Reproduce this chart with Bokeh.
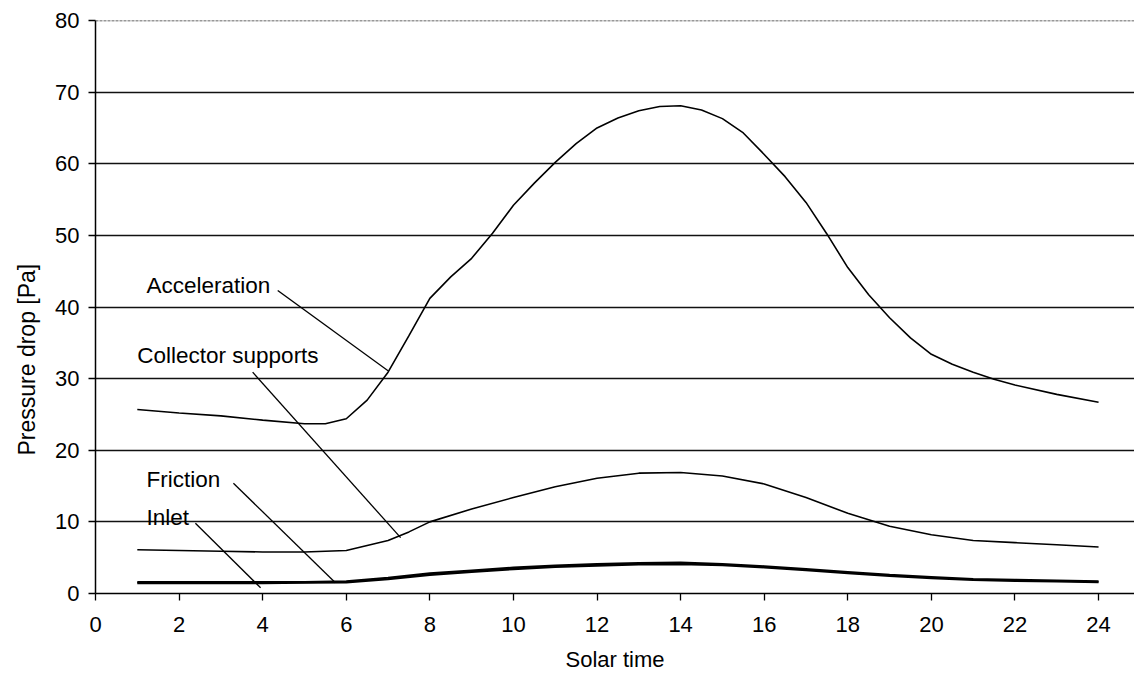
from bokeh.plotting import figure
from bokeh.models import Range1d, FixedTicker, ColumnDataSource, Span, Title
from bokeh.core.properties import value
from bokeh.embed import file_html
from bokeh.resources import INLINE

# ---- data ----
acc_x = [1, 2, 3, 4, 5, 5.5, 6, 6.5, 7, 7.5, 8, 8.5, 9, 9.5, 10, 10.5, 11, 11.5, 12, 12.5,
         13, 13.5, 14, 14.5, 15, 15.5, 16, 16.5, 17, 17.5, 18, 18.5, 19, 19.5, 20, 20.5,
         21, 21.5, 22, 23, 24]
acc_y = [25.7, 25.2, 24.8, 24.2, 23.7, 23.7, 24.4, 27.0, 30.9, 36.0, 41.2, 44.2, 46.8, 50.3,
         54.2, 57.3, 60.2, 62.8, 65.0, 66.4, 67.4, 68.0, 68.1, 67.5, 66.3, 64.3, 61.3, 58.2,
         54.6, 50.2, 45.5, 41.7, 38.5, 35.7, 33.4, 32.0, 30.9, 29.9, 29.1, 27.8, 26.7]

col_x = [1, 2, 3, 4, 5, 6, 6.5, 7, 7.5, 8, 9, 10, 11, 12, 13, 14, 15, 16, 17, 18, 19, 20,
         21, 22, 23, 24]
col_y = [6.1, 6.0, 5.9, 5.8, 5.8, 6.0, 6.7, 7.4, 8.6, 10.0, 11.8, 13.4, 14.9, 16.1, 16.8,
         16.9, 16.4, 15.3, 13.4, 11.2, 9.4, 8.2, 7.4, 7.1, 6.8, 6.5]

hours = list(range(1, 25))
friction = [1.6, 1.6, 1.6, 1.6, 1.6, 1.7, 2.2, 2.8, 3.2, 3.6, 3.9, 4.1, 4.25, 4.3, 4.1, 3.8,
            3.4, 3.0, 2.6, 2.3, 2.0, 1.9, 1.8, 1.7]
inlet = [1.45, 1.45, 1.45, 1.45, 1.5, 1.55, 2.0, 2.6, 3.0, 3.4, 3.7, 3.9, 4.05, 4.1, 3.95,
         3.65, 3.25, 2.85, 2.45, 2.15, 1.9, 1.75, 1.7, 1.6]

x_ticks = list(range(0, 25, 2))
y_ticks = list(range(0, 81, 10))

# annotation labels and their leader lines (data units)
ann_text = ["Acceleration", "Collector supports", "Friction", "Inlet"]
ann_x = [1.22, 1.0, 1.22, 1.22]
ann_y = [43.0, 33.2, 15.9, 10.66]
lead_x0 = [4.36, 3.76, 3.30, 2.39]
lead_y0 = [42.3, 30.9, 15.4, 9.8]
lead_x1 = [7.00, 7.30, 5.74, 3.95]
lead_y1 = [31.1, 7.8, 1.5, 0.8]

x_title = "Solar time"
y_title = "Pressure drop [Pa]"

FONT = "Liberation Sans"

p = figure(width=1134, height=681, output_backend="svg", toolbar_location=None,
           x_range=Range1d(0, 24.86), y_range=Range1d(0, 80),
           min_border_left=95, min_border_right=0, min_border_top=20, min_border_bottom=88)
p.outline_line_color = None
p.background_fill_color = "white"
p.border_fill_color = "white"

p.xgrid.grid_line_color = None
p.ygrid.ticker = FixedTicker(ticks=y_ticks[:-1])
p.ygrid.grid_line_color = "#111111"
p.ygrid.grid_line_width = 1.4
p.add_layout(Span(location=y_ticks[-1], dimension="width", line_color="#333333",
                  line_width=1.4, line_dash="3 1"))

for ax in (p.xaxis[0], p.yaxis[0]):
    ax.axis_line_color = "black"
    ax.axis_line_width = 1.5
    ax.major_tick_line_color = "black"
    ax.major_tick_line_width = 1.3
    ax.major_tick_in = 0
    ax.major_tick_out = 7
    ax.minor_tick_line_color = None
    ax.major_label_text_font = FONT
    ax.major_label_text_font_size = "22px"
    ax.major_label_text_color = "black"
    ax.axis_label_text_font = FONT
    ax.axis_label_text_font_style = "normal"
    ax.axis_label_text_color = "black"

p.xaxis.ticker = FixedTicker(ticks=x_ticks)
p.yaxis.ticker = FixedTicker(ticks=y_ticks)
p.xaxis.major_label_standoff = 16
p.yaxis.major_label_standoff = 9
p.xaxis.axis_label = x_title
p.xaxis.axis_label_text_font_size = "22px"
p.xaxis.axis_label_standoff = 12

p.add_layout(Title(text=y_title, align="left", offset=138, text_font=FONT,
                   text_font_size="23px", text_font_style="normal", text_color="black",
                   vertical_align="top", standoff=22), "left")

p.line(acc_x, acc_y, line_color="black", line_width=1.6)
p.line(col_x, col_y, line_color="black", line_width=1.6)
p.line(hours, friction, line_color="black", line_width=2.2)
p.line(hours, inlet, line_color="black", line_width=2.2)

p.segment(x0=lead_x0, y0=lead_y0, x1=lead_x1, y1=lead_y1, line_color="black", line_width=1.3)

src = ColumnDataSource(dict(x=ann_x, y=ann_y, t=ann_text))
p.text(x="x", y="y", text="t", source=src, text_font=value(FONT), text_font_size="22.5px",
       text_color="black", text_baseline="alphabetic", text_align="left")

open("out.html", "w").write(file_html(p, INLINE))
